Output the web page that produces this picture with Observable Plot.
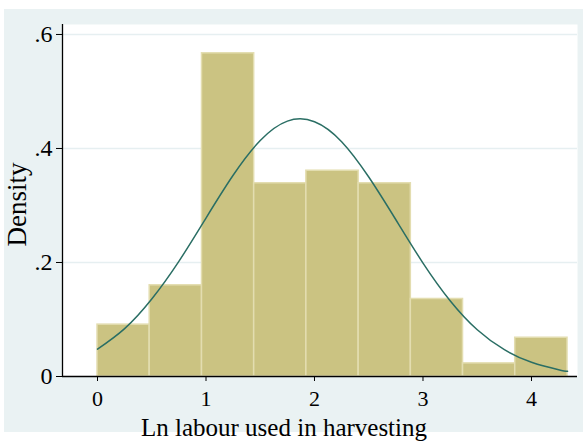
<!DOCTYPE html>
<html>
<head>
<meta charset="utf-8">
<script src="https://cdn.jsdelivr.net/npm/d3@7"></script>
<script src="https://cdn.jsdelivr.net/npm/@observablehq/plot@0.6"></script>
<style>
  html, body { margin: 0; padding: 0; background: white; }
  #wrap { position: relative; width: 583px; height: 442px; background: white; overflow: hidden; }
  #wrap svg { position: absolute; left: 4px; top: 9px; }
</style>
</head>
<body>
<div id="wrap"></div>
<script>
// Histogram bins (edges) and densities
const binEdges = [0, 0.481, 0.963, 1.444, 1.925, 2.407, 2.888, 3.369, 3.850, 4.332];
const densities = [0.091, 0.160, 0.567, 0.339, 0.361, 0.339, 0.136, 0.023, 0.068];

// Normal density overlay
const curveX = [0, 0.25, 0.5, 0.75, 1.0, 1.25, 1.5, 1.75, 2.0, 2.25, 2.5, 2.75, 3.0, 3.25, 3.5, 3.75, 4.0, 4.25, 4.332];
const curveY = [0.048, 0.084, 0.136, 0.202, 0.278, 0.353, 0.414, 0.448, 0.447, 0.412, 0.350, 0.275, 0.199, 0.133, 0.082, 0.047, 0.025, 0.012, 0.009];

// Axis ticks and labels
const xTicks = [0, 1, 2, 3, 4];
const xTickLabels = ["0", "1", "2", "3", "4"];
const yTicks = [0, 0.2, 0.4, 0.6];
const yTickLabels = ["0", ".2", ".4", ".6"];
const xTitle = "Ln labour used in harvesting";
const yTitle = "Density";

const bars = densities.map((d, i) => ({x1: binEdges[i], x2: binEdges[i + 1], y: d}));
const curve = curveX.map((x, i) => ({x, y: curveY[i]}));
const xLab = new Map(xTicks.map((t, i) => [t, xTickLabels[i]]));
const yLab = new Map(yTicks.map((t, i) => [t, yTickLabels[i]]));

const xMin = -0.3226, xMax = 4.424;

const chart = Plot.plot({
  width: 579,
  height: 423,
  marginLeft: 58,
  marginRight: 6,
  marginTop: 15,
  marginBottom: 56,
  x: {domain: [xMin, xMax]},
  y: {domain: [0, 0.6175]},
  style: {background: "#EAF2F3", fontFamily: "Liberation Serif, serif", fontSize: "24px", color: "black", overflow: "visible"},
  marks: [
    Plot.frame({fill: "white", stroke: null}),
    Plot.gridY(yTicks.filter(t => t > 0), {stroke: "#E6EFF1", strokeOpacity: 1, strokeWidth: 1.5}),
    Plot.rectY(bars, {x1: "x1", x2: "x2", y: "y", fill: "#CBC382", stroke: "#E3DDB0", strokeWidth: 1.5, inset: 0}),
    Plot.line(curve, {x: "x", y: "y", stroke: "#2A6E64", strokeWidth: 1.5, curve: "natural"}),
    Plot.ruleY([0], {stroke: "black", strokeWidth: 1.3}),
    Plot.ruleX([xMin], {stroke: "black", strokeWidth: 1.3}),
    Plot.axisX({ticks: xTicks, tickFormat: d => xLab.get(d), tickSize: 5, tickPadding: 9, fontSize: 22, label: null, stroke: "black"}),
    Plot.axisY({ticks: yTicks, tickFormat: d => yLab.get(d), tickSize: 6, tickPadding: 4, label: null, stroke: "black"}),
    Plot.text([xTitle], {frameAnchor: "bottom", lineAnchor: "bottom", textAnchor: "middle", dx: -36, dy: 59, fontSize: 25, fill: "black"}),
    Plot.text([yTitle], {frameAnchor: "left", rotate: -90, lineAnchor: "middle", textAnchor: "middle", dx: -45, dy: 4, fontSize: 27, fill: "black"})
  ]
});
document.getElementById("wrap").appendChild(chart);
</script>
</body>
</html>
